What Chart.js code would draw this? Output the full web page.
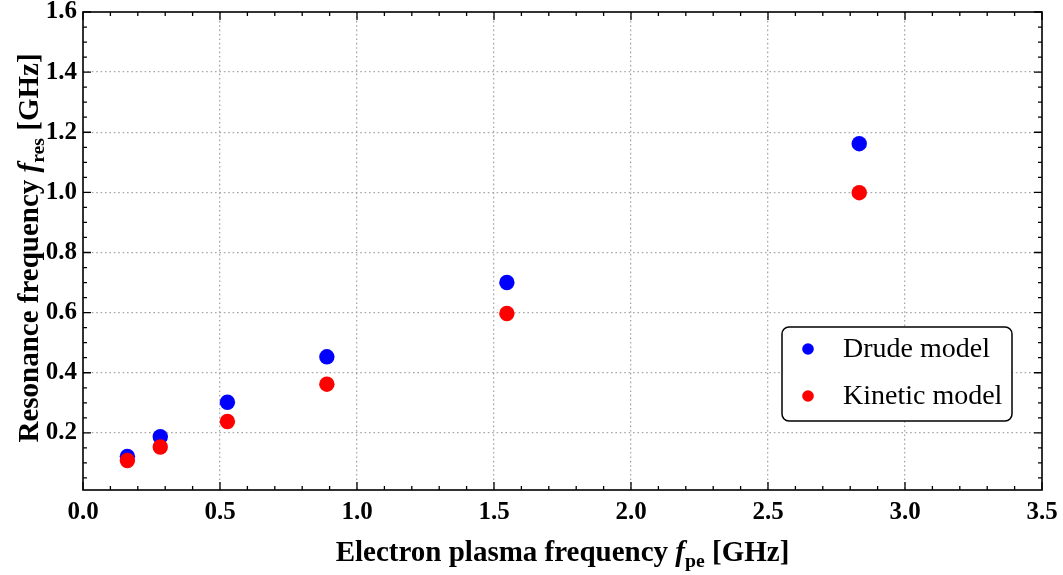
<!DOCTYPE html>
<html>
<head>
<meta charset="utf-8">
<script src="https://cdn.jsdelivr.net/npm/chart.js@4.4.1/dist/chart.umd.min.js"></script>
<style>
  html, body { margin: 0; padding: 0; background: #fff; }
  #wrap { width: 1063px; height: 575px; }
</style>
</head>
<body>
<div id="wrap"><canvas id="resChart" width="1063" height="575"></canvas></div>
<script>
// plasma frequency f_pe [GHz]
const plasmaFreq = [0.162, 0.282, 0.527, 0.890, 1.547, 2.833];
// resonance frequency f_res [GHz]
const drudeRes   = [0.122, 0.187, 0.302, 0.453, 0.700, 1.162];
const kineticRes = [0.108, 0.153, 0.238, 0.362, 0.597, 0.999];

const seriesNames = ['Drude model', 'Kinetic model'];
const xTickValues = [0.0, 0.5, 1.0, 1.5, 2.0, 2.5, 3.0, 3.5];
const yTickValues = [0.2, 0.4, 0.6, 0.8, 1.0, 1.2, 1.4, 1.6];

const FONT = '"Liberation Serif", "Times New Roman", serif';
const toPoints = (xs, ys) => xs.map((x, i) => ({ x: x, y: ys[i] }));

// frame with inward ticks on all four sides
const frameTicks = {
    id: 'frameTicks',
    afterDatasetsDraw(chart) {
        const { ctx, chartArea: a, scales: { x, y } } = chart;
        ctx.save();
        ctx.strokeStyle = '#000';
        ctx.lineWidth = 1.3;
        for (let i = 0; i <= 35; i++) {
            const v = i / 10;
            const px = x.getPixelForValue(v);
            const len = i % 5 === 0 ? 8 : 4;
            ctx.beginPath();
            ctx.moveTo(px, a.bottom); ctx.lineTo(px, a.bottom - len);
            ctx.moveTo(px, a.top); ctx.lineTo(px, a.top + len);
            ctx.stroke();
        }
        for (let i = 1; i <= 32; i++) {
            const v = i * 0.05;
            const py = y.getPixelForValue(v);
            if (py > a.bottom) continue;
            const len = i % 4 === 0 ? 8 : 4;
            ctx.beginPath();
            ctx.moveTo(a.left, py); ctx.lineTo(a.left + len, py);
            ctx.moveTo(a.right, py); ctx.lineTo(a.right - len, py);
            ctx.stroke();
        }
        ctx.lineWidth = 1.6;
        ctx.strokeRect(a.left, a.top, a.right - a.left, a.bottom - a.top);
        ctx.restore();
    }
};

// axis titles with italic symbol + subscript
function richText(ctx, parts, size, cx, baseY) {
    const widths = parts.map(p => {
        ctx.font = (p.italic ? 'italic ' : '') + 'bold ' + (p.sub ? size * 0.68 : size) + 'px ' + FONT;
        return ctx.measureText(p.text).width;
    });
    let xx = cx - widths.reduce((s, w) => s + w, 0) / 2;
    parts.forEach((p, i) => {
        ctx.font = (p.italic ? 'italic ' : '') + 'bold ' + (p.sub ? size * 0.68 : size) + 'px ' + FONT;
        ctx.fillText(p.text, xx, baseY + (p.sub ? size * 0.22 : 0));
        xx += widths[i];
    });
}

const axisTitles = {
    id: 'axisTitles',
    afterDraw(chart) {
        const { ctx, chartArea: a } = chart;
        ctx.save();
        ctx.fillStyle = '#000';
        ctx.textBaseline = 'alphabetic';
        ctx.textAlign = 'left';
        richText(ctx, [
            { text: 'Electron plasma frequency ' },
            { text: 'f', italic: true },
            { text: 'pe', sub: true },
            { text: ' [GHz]' }
        ], 29, (a.left + a.right) / 2, 561);
        ctx.translate(38, (a.top + a.bottom) / 2 - 3);
        ctx.rotate(-Math.PI / 2);
        richText(ctx, [
            { text: 'Resonance frequency ' },
            { text: 'f', italic: true },
            { text: 'res', sub: true },
            { text: ' [GHz]' }
        ], 29, 0, 0);
        ctx.restore();
    }
};

// boxed legend inside the plot
const boxLegend = {
    id: 'boxLegend',
    afterDraw(chart) {
        const { ctx, chartArea: a } = chart;
        const bx = a.right - 260, by = a.bottom - 163, bw = 230, bh = 94;
        ctx.save();
        ctx.fillStyle = '#fff';
        ctx.strokeStyle = '#000';
        ctx.lineWidth = 1.5;
        ctx.beginPath();
        ctx.roundRect(bx, by, bw, bh, 7);
        ctx.fill();
        ctx.stroke();
        ctx.font = '28px ' + FONT;
        ctx.textBaseline = 'middle';
        ctx.textAlign = 'left';
        const legendOrder = [0, 1];
        legendOrder.forEach((di, row) => {
            const ds = chart.data.datasets[di];
            const cy = by + 22 + row * 47;
            ctx.fillStyle = ds.backgroundColor;
            ctx.beginPath();
            ctx.arc(bx + 26, cy, 5.8, 0, Math.PI * 2);
            ctx.fill();
            ctx.fillStyle = '#000';
            ctx.fillText(ds.label, bx + 61, cy + 1);
        });
        ctx.restore();
    }
};

new Chart(document.getElementById('resChart'), {
    type: 'scatter',
    data: {
        datasets: [
            {
                label: seriesNames[0],
                data: toPoints(plasmaFreq, drudeRes),
                backgroundColor: 'rgb(0,0,255)',
                borderWidth: 0,
                pointRadius: 7.7,
                order: 2
            },
            {
                label: seriesNames[1],
                data: toPoints(plasmaFreq, kineticRes),
                backgroundColor: 'rgb(255,0,0)',
                borderWidth: 0,
                pointRadius: 7.7,
                order: 1
            }
        ]
    },
    options: {
        responsive: false,
        animation: false,
        layout: { padding: { top: 12, right: 21, left: 0, bottom: 0 } },
        plugins: {
            legend: { display: false },
            tooltip: { enabled: false }
        },
        scales: {
            x: {
                type: 'linear',
                min: 0,
                max: 3.5,
                afterBuildTicks: s => { s.ticks = xTickValues.map(v => ({ value: v })); },
                afterFit: s => { s.height = 85; s.paddingLeft = 0; s.paddingRight = 0; },
                ticks: {
                    padding: 8,
                    color: '#000',
                    font: { family: FONT, size: 25, weight: 'bold' },
                    callback: v => v.toFixed(1)
                },
                grid: {
                    drawTicks: false,
                    color: c => (c.tick && (c.tick.value === 0 || c.tick.value === 3.5)) ? 'rgba(0,0,0,0)' : '#a8a8a8',
                    lineWidth: 1.3
                },
                border: { display: false, dash: [1.6, 2.8] }
            },
            y: {
                type: 'linear',
                min: 0.01,
                max: 1.6,
                afterBuildTicks: s => { s.ticks = yTickValues.map(v => ({ value: v })); },
                afterFit: s => { s.width = 83; s.paddingTop = 0; s.paddingBottom = 0; },
                ticks: {
                    padding: 6,
                    color: '#000',
                    font: { family: FONT, size: 25, weight: 'bold' },
                    callback: v => v.toFixed(1)
                },
                grid: {
                    drawTicks: false,
                    color: c => (c.tick && c.tick.value === 1.6) ? 'rgba(0,0,0,0)' : '#a8a8a8',
                    lineWidth: 1.3
                },
                border: { display: false, dash: [1.6, 2.8] }
            }
        }
    },
    plugins: [frameTicks, axisTitles, boxLegend]
});
</script>
</body>
</html>
